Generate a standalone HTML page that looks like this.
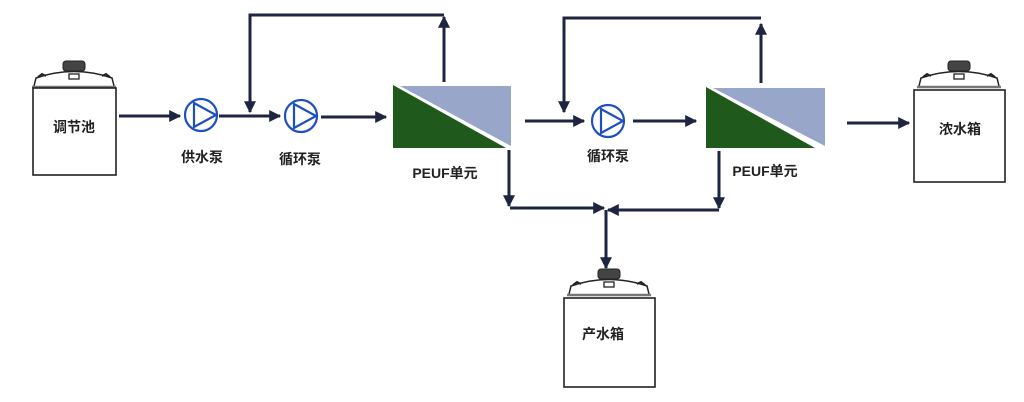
<!DOCTYPE html>
<html><head><meta charset="utf-8"><style>
html,body{margin:0;padding:0;background:#fff;}
svg{display:block}
text{font-family:"Liberation Sans","Noto Sans CJK SC",sans-serif;font-weight:bold;fill:#222;}
</style></head><body>
<svg width="1024" height="402" viewBox="0 0 1024 402" xmlns="http://www.w3.org/2000/svg">
<defs>
<marker id="ah" viewBox="0 0 10 10" refX="9" refY="5" markerWidth="4" markerHeight="4" orient="auto" markerUnits="strokeWidth">
<path d="M0,0 L10,5 L0,10 Z" fill="#1d2540"/></marker>
<g id="tank">
<path d="M-40,-5 L-38,-13 Q0,-26 38,-13 L40,-5" fill="#fff" stroke="#222" stroke-width="1.5"/>
<rect x="-11" y="-30" width="22" height="10" rx="3" fill="#444" stroke="#222"/>
<rect x="-5" y="-17" width="10" height="5" fill="#fff" stroke="#222" stroke-width="1.3"/>
<path d="M-36,-14 l4,-3 l4,2 M28,-15 l4,-2 l4,3" stroke="#222" stroke-width="2" fill="none"/>
<line x1="-42" y1="-4" x2="42" y2="-4" stroke="#777" stroke-width="2.5"/>
</g>
</defs>
<g stroke="#1d2540" stroke-width="3" fill="none">
<line x1="119" y1="116" x2="180" y2="116" marker-end="url(#ah)"/>
<line x1="219" y1="116" x2="280" y2="116" marker-end="url(#ah)"/>
<polyline points="444,82 444,17"  marker-end="url(#ah)"/>
<polyline points="444,15 250,15 250,112" marker-end="url(#ah)"/>
<line x1="321" y1="117" x2="386" y2="117" marker-end="url(#ah)"/>
<polyline points="509,150 509,206" marker-end="url(#ah)"/>
<polyline points="510,208 604,208" marker-end="url(#ah)"/>
<line x1="525" y1="121" x2="584" y2="121" marker-end="url(#ah)"/>
<line x1="761" y1="83" x2="761" y2="24" marker-end="url(#ah)"/>
<polyline points="761,18 564,18 564,112" marker-end="url(#ah)"/>
<line x1="633" y1="121" x2="696" y2="121" marker-end="url(#ah)"/>
<polyline points="719,151 719,208" marker-end="url(#ah)"/>
<polyline points="719,210 608,210" marker-end="url(#ah)"/>
<polyline points="606,210 606,268" marker-end="url(#ah)"/>
<line x1="847" y1="123" x2="909" y2="123" marker-end="url(#ah)"/>
</g>
<g stroke="#1e4fc0" stroke-width="2.2" fill="#fff">
<circle cx="201" cy="115" r="16"/><path d="M194,103 L194,127 L216,115 Z"/>
<circle cx="301" cy="116" r="16"/><path d="M294,104 L294,128 L316,116 Z"/>
<circle cx="608" cy="121" r="16"/><path d="M601,109 L601,133 L623,121 Z"/>
</g>
<polygon points="393,85 393,148 506,148" fill="#1f5a1c"/>
<polygon points="400,86 511,86 511,146" fill="#97a6c9"/>
<polygon points="706,87 706,148 815,148" fill="#1f5a1c"/>
<polygon points="713,88 825,88 825,146" fill="#97a6c9"/>
<use href="#tank" x="74" y="91"/>
<rect x="33" y="88" width="83" height="87" fill="#fff" stroke="#222" stroke-width="1.6"/>
<use href="#tank" x="959" y="91"/>
<rect x="914" y="90" width="91" height="92" fill="#fff" stroke="#222" stroke-width="1.6"/>
<use href="#tank" x="609" y="299"/>
<rect x="564" y="298" width="91" height="89" fill="#fff" stroke="#222" stroke-width="1.6"/>
<g font-size="14" text-anchor="middle">
<text x="74" y="132">调节池</text>
<text x="202" y="162">供水泵</text>
<text x="300" y="164">循环泵</text>
<text x="608" y="161">循环泵</text>
<text x="445" y="178">PEUF单元</text>
<text x="765" y="176">PEUF单元</text>
<text x="960" y="134">浓水箱</text>
<text x="603" y="339">产水箱</text>
</g>
</svg>
</body></html>
